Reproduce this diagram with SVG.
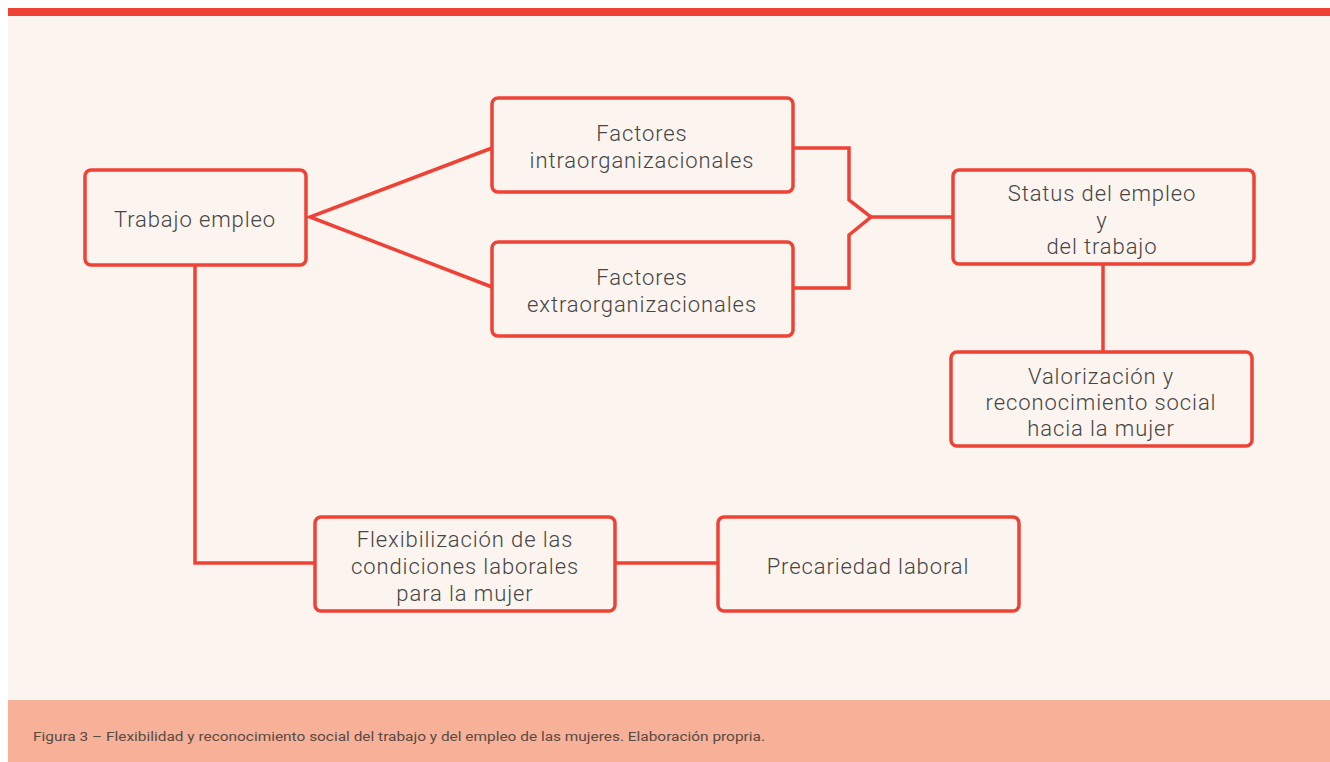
<svg xmlns="http://www.w3.org/2000/svg" width="1330" height="762" viewBox="0 0 1330 762">
<style>
.box{fill:#FCF4EF;stroke:#EE4237;stroke-width:3.5}
.con{fill:none;stroke:#EE4237;stroke-width:3.5;stroke-linejoin:miter}
.t{font-family:Roboto,"Liberation Sans",sans-serif;font-size:22px;font-weight:300;letter-spacing:0.9px;fill:#454545;text-anchor:middle;dominant-baseline:central}
.cap{font-family:Roboto,"Liberation Sans",sans-serif;font-size:12px;fill:#5a4a44}
</style>
<rect x="0" y="0" width="1330" height="762" fill="#ffffff"/>
<rect x="8" y="16" width="1322" height="684" fill="#FCF4EF"/>
<rect x="8" y="8" width="1322" height="8" fill="#EE4237"/>
<rect x="8" y="700" width="1322" height="62" fill="#F7B198"/>
<text class="cap" x="33" y="741" textLength="732" lengthAdjust="spacingAndGlyphs">Figura 3 – Flexibilidad y reconocimiento social del trabajo y del empleo de las mujeres. Elaboración propria.</text>
<g id="connectors">
<polyline class="con" points="492,148 310,217 492,287"/>
<polyline class="con" points="793,148 849,148 849,200 871,217 849,235 849,288 793,288"/>
<line class="con" x1="871" y1="217" x2="953" y2="217"/>
<line class="con" x1="1103" y1="265" x2="1103" y2="352"/>
<polyline class="con" points="195,265 195,563 315,563"/>
<line class="con" x1="615" y1="563" x2="718" y2="563"/>
</g>
<g id="trabajo">
<rect class="box" x="85" y="170" width="221" height="95" rx="6"/>
<text class="t" x="195" y="219">Trabajo empleo</text>
</g>
<g id="intra">
<rect class="box" x="492" y="98" width="301" height="94" rx="6"/>
<text class="t" x="642" y="133">Factores</text>
<text class="t" x="642" y="160">intraorganizacionales</text>
</g>
<g id="extra">
<rect class="box" x="492" y="242" width="301" height="94" rx="6"/>
<text class="t" x="642" y="277">Factores</text>
<text class="t" x="642" y="304">extraorganizacionales</text>
</g>
<g id="status">
<rect class="box" x="953" y="170" width="301" height="94" rx="6"/>
<text class="t" x="1102" y="193">Status del empleo</text>
<text class="t" x="1102" y="220">y</text>
<text class="t" x="1102" y="246">del trabajo</text>
</g>
<g id="valorizacion">
<rect class="box" x="951" y="352" width="301" height="94" rx="6"/>
<text class="t" x="1101" y="376">Valorización y</text>
<text class="t" x="1101" y="402">reconocimiento social</text>
<text class="t" x="1101" y="428">hacia la mujer</text>
</g>
<g id="flexibilizacion">
<rect class="box" x="315" y="517" width="300" height="94" rx="6"/>
<text class="t" x="465" y="539">Flexibilización de las</text>
<text class="t" x="465" y="566">condiciones laborales</text>
<text class="t" x="465" y="593">para la mujer</text>
</g>
<g id="precariedad">
<rect class="box" x="718" y="517" width="301" height="94" rx="6"/>
<text class="t" x="868" y="566">Precariedad laboral</text>
</g>
</svg>
